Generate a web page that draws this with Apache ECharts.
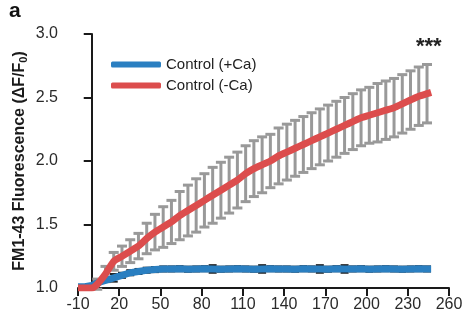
<!DOCTYPE html>
<html>
<head>
<meta charset="utf-8">
<script src="https://cdn.jsdelivr.net/npm/echarts@6/dist/echarts.min.js"></script>
<style>
  html, body { margin: 0; padding: 0; background: #fff; }
  #chart { width: 465px; height: 328px; }
</style>
</head>
<body>
<div id="chart"></div>
<script>
// time points (s)
const times = [-10, -5, 0, 4, 10, 16, 22, 28, 34, 40, 46, 52, 58, 64, 70, 76, 82, 88, 94, 100,
  106, 112, 118, 124, 130, 136, 142, 148, 154, 160, 166, 172, 178, 184, 190, 196, 202, 208,
  214, 220, 226, 232, 238, 244, 247];

// Control (-Ca)
const minusCaMean = [1.00, 1.00, 1.00, 1.03, 1.11, 1.21, 1.25, 1.29, 1.33, 1.39, 1.44, 1.48,
  1.52, 1.57, 1.61, 1.65, 1.69, 1.73, 1.77, 1.81, 1.85, 1.90, 1.94, 1.97, 2.00, 2.04, 2.07,
  2.10, 2.13, 2.16, 2.19, 2.22, 2.25, 2.28, 2.31, 2.34, 2.36, 2.38, 2.40, 2.42, 2.45, 2.48,
  2.51, 2.53, 2.54];
const minusCaSem = [null, null, null, 0.04, 0.06, 0.07, 0.08, 0.09, 0.10, 0.12, 0.14, 0.16,
  0.17, 0.19, 0.20, 0.21, 0.21, 0.22, 0.22, 0.22, 0.22, 0.22, 0.22, 0.22, 0.21, 0.22, 0.22,
  0.22, 0.22, 0.22, 0.22, 0.22, 0.22, 0.22, 0.22, 0.22, 0.22, 0.23, 0.23, 0.23, 0.23, 0.23,
  0.23, 0.23, null];

// Control (+Ca)
const plusCaMean = [1.01, 1.01, 1.02, 1.04, 1.06, 1.08, 1.10, 1.12, 1.13, 1.14, 1.145, 1.15,
  1.15, 1.152, 1.148, 1.15, 1.152, 1.15, 1.148, 1.15, 1.152, 1.15, 1.148, 1.15, 1.152, 1.15,
  1.15, 1.148, 1.152, 1.15, 1.15, 1.148, 1.152, 1.15, 1.15, 1.152, 1.148, 1.15, 1.152, 1.15,
  1.148, 1.15, 1.152, 1.15, 1.15];
const plusCaSem = [null, null, null, 0.01, 0.01, 0.03, 0.02, 0.02, 0.02, 0.02, 0.02, 0.02,
  0.02, 0.02, 0.02, 0.02, 0.02, 0.03, 0.02, 0.02, 0.02, 0.02, 0.02, 0.03, 0.02, 0.02,
  0.02, 0.02, 0.02, 0.02, 0.03, 0.02, 0.02, 0.03, 0.02, 0.02, 0.02, 0.02, 0.02, 0.02,
  0.02, 0.02, 0.02, 0.02, null];

const xMin = -10, xMax = 260, xStep = 30;
const yMin = 1.0, yMax = 3.0, yStep = 0.5;

const font = '"Liberation Sans", Arial, sans-serif';

function pairs(mean) {
  return times.map((t, i) => [t, mean[i]]);
}
function bars(mean, sem) {
  const out = [];
  times.forEach((t, i) => {
    if (sem[i] != null) out.push([t, mean[i] - sem[i], mean[i] + sem[i]]);
  });
  return out;
}
function errorBar(color, width, capHalf) {
  return function (params, api) {
    const x = api.value(0);
    const lo = api.coord([x, api.value(1)]);
    const hi = api.coord([x, api.value(2)]);
    const style = { stroke: color, lineWidth: width };
    return {
      type: 'group',
      children: [
        { type: 'line', shape: { x1: hi[0], y1: hi[1], x2: lo[0], y2: lo[1] }, style: style },
        { type: 'line', shape: { x1: hi[0] - capHalf, y1: hi[1], x2: hi[0] + capHalf, y2: hi[1] }, style: style },
        { type: 'line', shape: { x1: lo[0] - capHalf, y1: lo[1], x2: lo[0] + capHalf, y2: lo[1] }, style: style }
      ]
    };
  };
}

const chart = echarts.init(document.getElementById('chart'));

chart.setOption({
  animation: false,
  textStyle: { fontFamily: font },
  grid: { left: 78, right: 16, top: 34, bottom: 40, outerBoundsMode: 'none', containLabel: false },
  legend: {
    data: ['Control (+Ca)', 'Control (-Ca)'],
    orient: 'vertical',
    left: 106,
    top: 52,
    icon: 'roundRect',
    itemWidth: 50,
    itemHeight: 6,
    itemGap: 6,
    textStyle: { fontSize: 15, color: '#222', fontFamily: font }
  },
  xAxis: {
    type: 'value',
    min: xMin,
    max: xMax,
    interval: xStep,
    axisLine: { lineStyle: { color: '#1a1a1a', width: 2 } },
    axisTick: { length: 8, lineStyle: { width: 2, color: '#1a1a1a' } },
    axisLabel: { fontSize: 16, color: '#2a2a2a', margin: 9 },
    splitLine: { show: false }
  },
  yAxis: {
    type: 'value',
    min: yMin,
    max: yMax,
    interval: yStep,
    axisLine: { show: true, onZero: true, lineStyle: { color: '#1a1a1a', width: 2 } },
    axisTick: { show: true, length: 8, lineStyle: { width: 2, color: '#1a1a1a' } },
    axisLabel: { fontSize: 16, color: '#2a2a2a', margin: 20, formatter: v => v.toFixed(1) },
    splitLine: { show: false },
    name: '{b|FM1-43 Fluorescence (ΔF/F}{s|0}{b|)}',
    nameLocation: 'middle',
    nameRotate: 90,
    nameGap: 49,
    nameMoveOverlap: false,
    nameTextStyle: {
      rich: {
        b: { fontSize: 16, fontWeight: 'bold', color: '#1a1a1a', fontFamily: font, lineHeight: 18 },
        s: { fontSize: 11, fontWeight: 'bold', color: '#1a1a1a', fontFamily: font, verticalAlign: 'bottom', lineHeight: 10 }
      }
    }
  },
  graphic: [
    { type: 'text', left: 9, top: 1, style: { text: 'a', font: 'bold 21px ' + font, fill: '#111' } },
    { type: 'text', left: 416, top: 36, style: { text: '***', font: 'bold 22px ' + font, fill: '#222' } }
  ],
  series: [
    {
      type: 'custom',
      name: 'minusErr',
      renderItem: errorBar('#999999', 3, 5),
      encode: { x: 0, y: [1, 2] },
      data: bars(minusCaMean, minusCaSem),
      z: 1
    },
    {
      type: 'custom',
      name: 'plusErr',
      renderItem: errorBar('#222', 2, 4),
      encode: { x: 0, y: [1, 2] },
      data: bars(plusCaMean, plusCaSem),
      z: 2
    },
    {
      type: 'line',
      name: 'Control (+Ca)',
      data: pairs(plusCaMean),
      showSymbol: false,
      lineStyle: { color: '#2a7fc1', width: 7 },
      itemStyle: { color: '#2a7fc1' },
      z: 3
    },
    {
      type: 'line',
      name: 'Control (-Ca)',
      data: pairs(minusCaMean),
      showSymbol: false,
      smooth: 0.2,
      lineStyle: { color: '#dc4d4d', width: 7 },
      itemStyle: { color: '#dc4d4d' },
      z: 4
    }
  ]
});
</script>
</body>
</html>
